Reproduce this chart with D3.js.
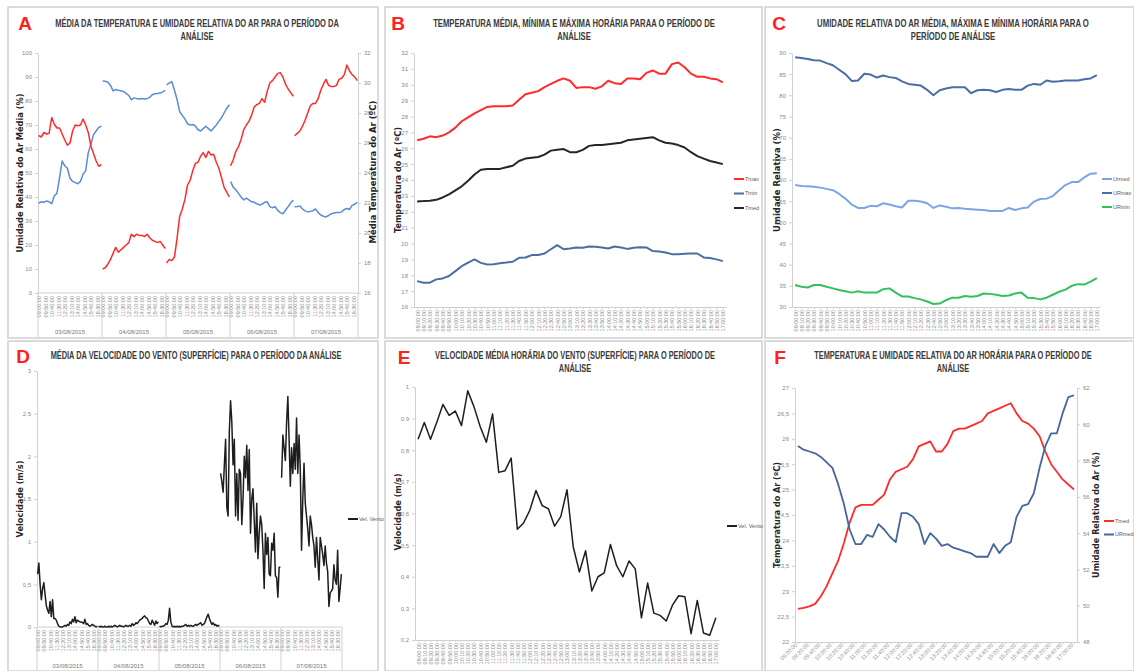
<!DOCTYPE html>
<html>
<head>
<meta charset="utf-8">
<script src="https://cdn.jsdelivr.net/npm/d3@7"></script>
<style>
  body { margin: 0; background: #fff; }
  .title { font-family: 'Liberation Sans Narrow', 'Liberation Sans', sans-serif; font-weight: bold; font-size: 11.5px; fill: #3a3a3a; }
  .letter { font-family: 'Liberation Sans Narrow', 'Liberation Sans', sans-serif; font-weight: bold; font-size: 19px; fill: #ff2020; text-anchor: middle; }
  .axtitle { font-family: 'DejaVu Sans', sans-serif; font-weight: bold; font-size: 8px; fill: #262626; text-anchor: middle; }
  .leg { font-family: 'Liberation Sans Narrow', 'Liberation Sans', sans-serif; font-size: 5.5px; fill: #595959; }
  .dlabel { font-family: 'Liberation Sans Narrow', 'Liberation Sans', sans-serif; font-size: 6px; fill: #7a7a7a; text-anchor: middle; }
</style>
</head>
<body>
<svg id="fig" width="1134" height="671"></svg>
<script>
// categories
const times = ["09:00:00","09:10:00","09:20:00","09:30:00","09:40:00","09:50:00",
  "10:00:00","10:10:00","10:20:00","10:30:00","10:40:00","10:50:00",
  "11:00:00","11:10:00","11:20:00","11:30:00","11:40:00","11:50:00",
  "12:00:00","12:10:00","12:20:00","12:30:00","12:40:00","12:50:00",
  "13:00:00","13:10:00","13:20:00","13:30:00","13:40:00","13:50:00",
  "14:00:00","14:10:00","14:20:00","14:30:00","14:40:00","14:50:00",
  "15:00:00","15:10:00","15:20:00","15:30:00","15:40:00","15:50:00",
  "16:00:00","16:10:00","16:20:00","16:30:00","16:40:00","16:50:00","17:00:00"];
const dates = ["03/08/2015","04/08/2015","05/08/2015","06/08/2015","07/08/2015"];
const dayTicks = ["09:00:00","09:50:00","10:40:00","11:30:00","12:20:00","13:10:00","14:00:00","14:50:00","15:40:00","16:30:00"];
const fTicks = times.filter((t, i) => i % 2 === 0);

// A: 20-minute means for each day (temperature ºC, relative humidity %)
const aTemp = [
  [26.5,26.4,26.7,26.6,26.65,27.7,27.25,27.0,27.0,26.6,26.2,25.85,26.0,26.8,27.2,27.15,27.2,27.6,27.2,26.7,25.8,25.3,24.8,24.45,24.55],
  [17.6,17.68,17.92,18.24,18.64,19.04,18.72,18.88,19.04,19.2,19.36,19.92,19.76,19.92,19.84,19.84,19.76,19.92,19.68,19.52,19.44,19.36,19.44,19.2,18.96],
  [18.0,18.24,18.16,18.4,19.68,21.12,21.6,22.24,23.2,23.52,24.16,24.64,24.72,25.12,25.36,25.04,25.44,25.2,25.25,24.72,24.32,23.68,23.04,22.72,22.4],
  [24.48,24.88,25.44,25.76,26.24,26.88,27.2,27.44,27.84,28.4,28.56,28.64,28.96,28.72,29.44,30.0,30.16,30.4,30.64,30.69,30.4,29.92,29.6,29.36,29.12],
  [26.48,26.64,26.8,27.12,27.52,28.0,28.48,28.64,28.64,28.96,29.52,29.92,30.24,29.84,29.76,29.76,29.84,30.24,30.32,30.56,31.2,30.8,30.56,30.4,30.16]
];
const aHum = [
  [37.4,38.0,37.8,38.3,38.0,37.2,40.5,41.5,48,55,53,52,47.8,46.5,46,45.5,46.5,49.5,51,58.5,62,66,67.5,69,69.5],
  [88.3,88.2,87.8,86.5,84.2,84.8,84.5,84.3,83.9,83.2,82.3,80.5,81.3,81.0,80.8,81.0,80.8,81.0,81.5,82.6,83.0,83.1,83.3,83.8,84.4],
  [86.7,87.5,88.0,84.5,80.5,75.5,74.0,72.5,70.5,70.0,70.2,69.6,68.0,67.5,68.5,69.5,68.5,67.5,68.8,70.0,71.5,73.0,75.0,77.0,78.5],
  [46.4,44.0,43.0,41.5,40.0,38.8,39.5,38.8,38.0,37.8,37.2,36.7,37.0,37.8,38.0,36.0,35.5,36.0,34.5,33.5,33.0,34.5,36.0,37.5,38.7],
  [35.9,36.0,36.2,35.0,34.2,33.8,34.0,34.3,35.0,33.5,32.5,32.0,31.7,32.3,33.0,33.3,33.5,33.5,33.8,34.8,35.2,34.8,36.5,37.0,37.8]
];

// B: hourly temperature (ºC)
const bTmax = [26.5,26.6,26.75,26.7,26.8,27.0,27.3,27.7,27.95,28.2,28.4,28.6,28.65,28.65,28.65,28.7,29.05,29.4,29.5,29.6,29.85,30.05,30.25,30.4,30.25,29.8,29.85,29.85,29.75,29.9,30.25,30.1,30.05,30.4,30.4,30.35,30.75,30.9,30.7,30.7,31.3,31.4,31.1,30.7,30.5,30.5,30.4,30.35,30.15];
const bTmin = [17.63,17.53,17.53,17.74,17.8,17.95,18.26,18.57,18.8,19.0,18.78,18.68,18.7,18.76,18.8,18.85,19.1,19.12,19.27,19.27,19.37,19.64,19.9,19.64,19.69,19.75,19.73,19.81,19.79,19.75,19.69,19.81,19.75,19.66,19.73,19.77,19.75,19.52,19.5,19.43,19.33,19.33,19.35,19.37,19.37,19.12,19.08,19.0,18.89];
const bTmed = [22.65,22.67,22.7,22.75,22.9,23.1,23.35,23.6,23.95,24.35,24.65,24.7,24.7,24.7,24.8,24.9,25.2,25.35,25.4,25.45,25.6,25.85,25.9,25.95,25.75,25.75,25.9,26.15,26.2,26.2,26.25,26.3,26.35,26.5,26.55,26.6,26.65,26.7,26.5,26.35,26.3,26.2,26.05,25.75,25.5,25.35,25.2,25.1,25.0];

// C: hourly relative humidity (%)
const cURmax = [89.0,88.8,88.6,88.3,88.2,87.6,87.1,86.05,85.0,83.4,83.5,85.1,84.9,84.2,84.7,84.3,84.1,83.3,82.7,82.5,82.3,81.3,80.0,81.2,81.6,81.9,81.9,81.9,80.5,81.2,81.3,81.2,80.8,81.3,81.5,81.3,81.3,82.3,82.7,82.5,83.5,83.2,83.3,83.5,83.5,83.5,83.8,84.0,84.8];
const cURmed = [58.8,58.6,58.5,58.4,58.2,57.9,57.6,56.7,55.6,54.2,53.4,53.4,53.9,53.8,54.5,54.2,53.8,53.5,55.1,55.1,54.9,54.5,53.4,54.0,53.7,53.3,53.4,53.2,53.1,53.0,52.9,52.7,52.7,52.7,53.4,52.9,53.3,53.5,54.9,55.5,55.6,56.2,57.6,58.8,59.5,59.5,60.6,61.5,61.6];
const cURmin = [35.2,34.8,34.6,35.2,35.2,34.8,34.4,34.0,33.7,33.4,33.7,33.4,33.4,33.4,34.2,34.4,33.4,32.5,32.5,32.1,31.8,31.3,30.7,30.8,31.6,32.2,32.2,32.6,32.4,32.6,33.2,33.1,32.9,32.6,32.7,33.2,33.4,32.2,32.1,31.8,32.2,32.9,33.6,34.1,35.0,35.4,35.3,36.0,36.8];

// D: 10-minute wind speed (m/s) for each day
const dWind = [
  [0.62,0.75,0.5,0.32,0.45,0.52,0.38,0.25,0.2,0.16,0.3,0.12,0.32,0.1,0.1,0.08,0.04,0.01,0,0,0,0.01,0.02,0.01,0.03,0.02,0.06,0.04,0.09,0.06,0.12,0.05,0.08,0.07,0.06,0.06,0.05,0.04,0.09,0.03,0.04,0.02,0.01,0.02,0.03,0.02,0.01,0,0.01],
  [0.01,0,0.01,0,0,0.01,0,0,0.01,0,0.01,0,0.01,0.02,0.01,0,0.01,0.02,0.01,0.01,0,0.01,0.02,0.01,0.01,0.02,0.01,0.04,0.02,0.03,0.05,0.04,0.06,0.08,0.09,0.1,0.12,0.13,0.11,0.1,0.07,0.04,0.03,0.08,0.05,0.02,0.07,0.04,0.06],
  [0.01,0,0.01,0.01,0.02,0.04,0.03,0.08,0.22,0.06,0.01,0,0.01,0,0.01,0,0.01,0,0.01,0.01,0.02,0.03,0.01,0.02,0.01,0.02,0.01,0.01,0.02,0.03,0.02,0.03,0.04,0.05,0.02,0.03,0.04,0.08,0.12,0.15,0.1,0.06,0.03,0.05,0.02,0.03,0.01,0.02,0.01],
  [1.8,1.7,1.58,1.9,2.2,1.4,1.3,2.3,2.65,2.4,1.9,2.2,1.3,1.8,1.25,1.85,1.8,1.2,1.5,2.0,1.75,2.13,1.6,2.08,1.1,1.5,1.62,1.25,0.88,1.45,0.8,1.1,1.3,1.2,0.9,0.45,1.1,0.85,1.05,0.62,0.6,0.98,0.9,1.1,0.6,0.58,0.35,0.7,0.7],
  [1.75,2.25,2.1,1.95,2.4,2.7,2.2,1.65,2.1,1.8,2.15,1.85,2.45,1.8,2.25,1.85,0.9,1.5,1.92,1.45,1.3,1.15,0.95,1.3,1.2,1.05,0.95,0.7,1.05,0.8,0.55,1.05,0.95,0.85,0.72,0.95,0.75,0.65,0.24,0.4,0.42,0.45,0.73,0.55,0.5,0.9,0.3,0.45,0.62]
];

// E: hourly mean wind speed (m/s)
const eWind = [0.835,0.888,0.835,0.888,0.945,0.91,0.924,0.878,0.988,0.938,0.875,0.825,0.915,0.73,0.735,0.775,0.55,0.57,0.61,0.673,0.625,0.615,0.56,0.59,0.675,0.495,0.415,0.482,0.355,0.4,0.412,0.502,0.435,0.4,0.45,0.425,0.27,0.38,0.285,0.278,0.26,0.31,0.34,0.337,0.22,0.325,0.222,0.215,0.27];

// axis ticks
const aTicksL = [0,10,20,30,40,50,60,70,80,90,100];
const aTicksR = [16,18,20,22,24,26,28,30,32];
const bTicks = [16,17,18,19,20,21,22,23,24,25,26,27,28,29,30,31,32];
const cTicks = [30,35,40,45,50,55,60,65,70,75,80,85,90];
const dTicks = [0,0.5,1,1.5,2,2.5,3];
const eTicks = [0.2,0.3,0.4,0.5,0.6,0.7,0.8,0.9,1];
const fTicksL = [22,22.5,23,23.5,24,24.5,25,25.5,26,26.5,27];
const fTicksR = [48,50,52,54,56,58,60,62];

const red = '#ff2b2b', blueA = '#5b8bd4', blueDark = '#4a6da5', blueLight = '#7ca5e5', green = '#35c060', black = '#1e1e1e', blueF = '#45669c';

const svg = d3.select('#fig');
const ptBR = d3.formatLocale({decimal: ',', thousands: '.', grouping: [3], currency: ['R$', '']});
const fmt = ptBR.format('~g');
const lineCol = '#d0d0d0';

// panel frames
[[8,7,378,338],[385,7,762,338],[765,7,1134,338],[8,341,378,671],[385,341,762,671],[765,341,1134,671]]
  .forEach(f => svg.append('rect').attr('x', f[0]).attr('y', f[1]).attr('width', f[2]-f[0]).attr('height', f[3]-f[1])
    .attr('fill', 'none').attr('stroke', lineCol).attr('stroke-width', 1.5));

// title lines: squeezed horizontally so the first line gets the wanted width
function panelTitle(lines, cx, y, w1, letter, lx, ly) {
  const g = svg.append('g').attr('transform', `translate(${cx},${y})`);
  const els = lines.map((t, i) => g.append('text').attr('class', 'title').attr('x', 0).attr('y', i * 13.5)
    .attr('text-anchor', 'middle').text(t));
  const cur = els[0].node().getComputedTextLength();
  const k = w1 / cur;
  g.attr('transform', `translate(${cx},${y}) scale(${k},1)`);
  svg.append('text').attr('class', 'letter').attr('x', lx).attr('y', ly).text(letter);
}

function axisTitle(txt, x, cy, len) {
  const el = svg.append('text').attr('class', 'axtitle')
    .attr('transform', `translate(${x},${cy}) rotate(-90)`).attr('dy', '0.35em').text(txt);
  const cur = el.node().getComputedTextLength();
  el.style('font-size', (8 * len / cur) + 'px');
}

function styleAxis(g, size) {
  g.select('.domain').attr('stroke', lineCol);
  g.selectAll('.tick line').attr('stroke', lineCol);
  g.selectAll('.tick text').attr('fill', '#8a8a8a')
    .style('font-family', "'Liberation Sans Narrow', 'Liberation Sans', sans-serif").style('font-size', (size || 6) + 'px');
}

function yAxis(scale, x, ticks, side) {
  const ax = (side === 'right' ? d3.axisRight(scale) : d3.axisLeft(scale))
    .tickValues(ticks).tickSize(3).tickPadding(3).tickSizeOuter(0).tickFormat(fmt);
  styleAxis(svg.append('g').attr('transform', `translate(${x},0)`).call(ax));
}

function timeAxis(scale, y, ticks, angle) {
  const g = svg.append('g').attr('transform', `translate(0,${y})`)
    .call(d3.axisBottom(scale).tickValues(ticks).tickSize(2).tickSizeOuter(0));
  styleAxis(g, 5.5);
  g.selectAll('.tick text').attr('x', -3).attr('y', 0).attr('dy', '0.35em')
    .attr('transform', `rotate(${angle})`).style('text-anchor', 'end');
}

function dayAxis(xDay, inner, y0, yDate, yEnd) {
  const [r0, r1] = xDay.range();
  svg.append('line').attr('x1', r0).attr('x2', r1).attr('y1', y0).attr('y2', y0).attr('stroke', lineCol);
  xDay.domain().forEach(d => {
    const g = svg.append('g').attr('transform', `translate(${xDay(d)},${y0})`)
      .call(d3.axisBottom(inner).tickValues(dayTicks).tickSize(0));
    g.select('.domain').remove();
    styleAxis(g, 5.5);
    g.selectAll('.tick text').attr('x', -3).attr('y', 0).attr('dy', '0.35em')
      .attr('transform', 'rotate(-90)').style('text-anchor', 'end');
    svg.append('text').attr('class', 'dlabel').attr('x', xDay(d) + xDay.bandwidth() / 2).attr('y', yDate).text(d);
  });
  xDay.domain().map(d => xDay(d)).concat([r1]).forEach(x =>
    svg.append('line').attr('x1', x).attr('x2', x).attr('y1', y0).attr('y2', yEnd).attr('stroke', lineCol));
}

function legend(items, x, y0, dy) {
  items.forEach((it, i) => {
    const y = y0 + i * dy;
    svg.append('line').attr('x1', x).attr('x2', x + 10).attr('y1', y).attr('y2', y)
      .attr('stroke', it[1]).attr('stroke-width', 2);
    svg.append('text').attr('class', 'leg').attr('x', x + 11).attr('y', y).attr('dy', '0.35em').text(it[0]);
  });
}

function path(vals, line, color, w) {
  svg.append('path').datum(vals).attr('d', line).attr('fill', 'none')
    .attr('stroke', color).attr('stroke-width', w).attr('stroke-linejoin', 'round');
}

// ---------- A ----------
{
  const xDay = d3.scaleBand().domain(dates).range([38, 358]);
  const inner = d3.scalePoint().domain(times).range([0, xDay.bandwidth()]).padding(0.5);
  const yL = d3.scaleLinear().domain([0, 100]).range([293, 53]);
  const yR = d3.scaleLinear().domain([16, 32]).range([293, 53]);
  yAxis(yL, 38, aTicksL, 'left');
  yAxis(yR, 358, aTicksR, 'right');
  dayAxis(xDay, inner, 293, 334, 338);
  dates.forEach((d, k) => {
    const x = (v, j) => xDay(d) + inner(times[2 * j]);
    path(aHum[k], d3.line().x(x).y(v => yL(v)), blueA, 1.5);
    path(aTemp[k], d3.line().x(x).y(v => yR(v)), red, 1.5);
  });
  panelTitle(['MÉDIA DA TEMPERATURA E UMIDADE RELATIVA DO AR PARA O PERÍODO DA', 'ANÁLISE'], 197, 26.5, 284, 'A', 25, 30);
  axisTitle('Umidade Relativa do Ar Média (%)', 20, 173, 159);
  axisTitle('Média Temperatura do Ar (ºC)', 373, 172, 143);
}

// ---------- B ----------
{
  const x = d3.scalePoint().domain(times).range([414, 726]).padding(0.5);
  const y = d3.scaleLinear().domain([16, 32]).range([307, 53]);
  yAxis(y, 414, bTicks, 'left');
  timeAxis(x, 307, times, -90);
  const line = d3.line().x((v, i) => x(times[i])).y(v => y(v));
  path(bTmin, line, blueDark, 2);
  path(bTmed, line, '#262626', 2);
  path(bTmax, line, red, 2);
  legend([['Tmax', red], ['Tmin', blueDark], ['Tmed', '#262626']], 734, 179, 14.5);
  panelTitle(['TEMPERATURA MÉDIA, MÍNIMA E MÁXIMA HORÁRIA PARAA O PERÍODO DE', 'ANÁLISE'], 574, 26.5, 282, 'B', 398, 30);
  axisTitle('Temperatura do Ar (ºC)', 398, 180, 106);
}

// ---------- C ----------
{
  const x = d3.scalePoint().domain(times).range([792, 1100]).padding(0.5);
  const y = d3.scaleLinear().domain([30, 90]).range([307, 53]);
  yAxis(y, 792, cTicks, 'left');
  timeAxis(x, 307, times, -90);
  const line = d3.line().x((v, i) => x(times[i])).y(v => y(v));
  path(cURmax, line, blueDark, 2);
  path(cURmed, line, blueLight, 2);
  path(cURmin, line, green, 2);
  legend([['Urmed', blueLight], ['URmax', blueDark], ['URmin', green]], 1102, 179, 14);
  panelTitle(['UMIDADE RELATIVA DO AR MÉDIA, MÁXIMA E MÍNIMA HORÁRIA PARA O', 'PERÍODO DE ANÁLISE'], 953, 26.5, 272, 'C', 779, 30);
  axisTitle('Umidade Relativa (%)', 777, 180, 104);
}

// ---------- D ----------
{
  const xDay = d3.scaleBand().domain(dates).range([37, 342]);
  const inner = d3.scalePoint().domain(times).range([0, xDay.bandwidth()]).padding(0.5);
  const y = d3.scaleLinear().domain([0, 3]).range([627, 371]);
  yAxis(y, 37, dTicks, 'left');
  dayAxis(xDay, inner, 627, 668, 671);
  dates.forEach((d, k) => {
    path(dWind[k], d3.line().x((v, j) => xDay(d) + inner(times[j])).y(v => y(v)), black, 1.5);
  });
  legend([['Vel. Vento', black]], 348, 519, 0);
  panelTitle(['MÉDIA DA VELOCIDADE DO VENTO (SUPERFÍCIE) PARA O PERÍODO DA ANÁLISE'], 196, 359, 291, 'D', 23, 363);
  axisTitle('Velocidade (m/s)', 20, 499, 77);
}

// ---------- E ----------
{
  const x = d3.scalePoint().domain(times).range([415, 719]).padding(0.5);
  const y = d3.scaleLinear().domain([0.2, 1]).range([640, 387]);
  yAxis(y, 415, eTicks, 'left');
  timeAxis(x, 640, times, -90);
  path(eWind, d3.line().x((v, i) => x(times[i])).y(v => y(v)), black, 1.5);
  legend([['Vel. Vento', black]], 727, 526, 0);
  panelTitle(['VELOCIDADE MÉDIA HORÁRIA DO VENTO (SUPERFÍCIE) PARA O PERÍODO DE', 'ANÁLISE'], 575, 359, 280, 'E', 404, 364);
  axisTitle('Velocidade (m/s)', 398, 512, 77);
}

// ---------- F ----------
{
  const x = d3.scalePoint().domain(times).range([795, 1077]).padding(0.5);
  const yL = d3.scaleLinear().domain([22, 27]).range([642, 388]);
  const yR = d3.scaleLinear().domain([48, 62]).range([642, 388]);
  yAxis(yL, 795, fTicksL, 'left');
  yAxis(yR, 1077, fTicksR, 'right');
  timeAxis(x, 642, fTicks, -45);
  path(bTmed, d3.line().x((v, i) => x(times[i])).y(v => yL(v)), red, 1.8);
  path(cURmed, d3.line().x((v, i) => x(times[i])).y(v => yR(v)), blueF, 1.8);
  legend([['Tmed', red], ['URmed', blueF]], 1104, 521, 13.5);
  panelTitle(['TEMPERATURA E UMIDADE RELATIVA DO AR HORÁRIA PARA O PERÍODO DE', 'ANÁLISE'], 953, 359, 278, 'F', 780, 364);
  axisTitle('Temperatura do Ar (ºC)', 777, 515, 106);
  axisTitle('Umidade Relativa do Ar (%)', 1096, 515, 126);
}
</script>
</body>
</html>
